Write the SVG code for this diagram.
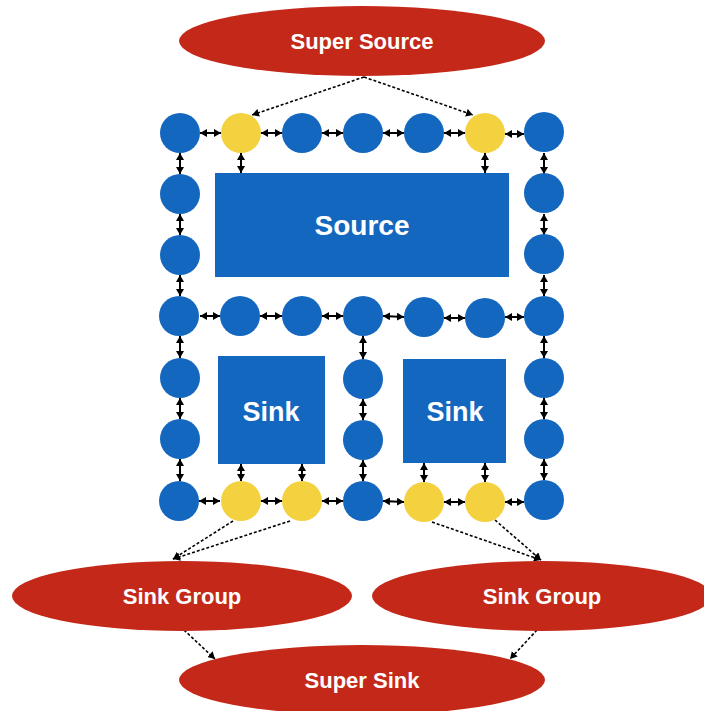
<svg xmlns="http://www.w3.org/2000/svg" width="704" height="711" viewBox="0 0 704 711">
  <style>
    .blue { fill: #1467BE; }
    .gold { fill: #F4D13F; }
    .red { fill: #C42819; }
    .box { fill: #1467BE; }
    .lbl { font-family: "Liberation Sans", Arial, Helvetica, sans-serif; font-weight: bold; fill: #FFFFFF; text-anchor: middle; }
    .big { font-size: 27px; }
    .mid { font-size: 22px; }
    .link { stroke: #000000; stroke-width: 2; fill: none; marker-start: url(#ah); marker-end: url(#ah); }
    .flow { stroke: #000000; stroke-width: 1.6; fill: none; stroke-dasharray: 3 2; marker-end: url(#ah); }
  </style>
  <defs>
    <marker id="ah" viewBox="0 0 7 8" refX="7" refY="4" markerWidth="7" markerHeight="8" orient="auto-start-reverse" markerUnits="userSpaceOnUse">
      <path d="M0,0 L7,4 L0,8 z" fill="#000000"/>
    </marker>
  </defs>

  <rect width="704" height="711" fill="#FFFFFF"/>

  <!-- connectors -->
  <g id="connectors">
    <!-- row 1 -->
    <line class="link" x1="200" y1="133" x2="221" y2="133"/>
    <line class="link" x1="261" y1="133" x2="282" y2="133"/>
    <line class="link" x1="322" y1="133" x2="343" y2="133"/>
    <line class="link" x1="383" y1="133" x2="404" y2="133"/>
    <line class="link" x1="444" y1="133" x2="465" y2="133"/>
    <line class="link" x1="505" y1="134" x2="524" y2="134"/>
    <!-- row 4 -->
    <line class="link" x1="200" y1="316" x2="220" y2="316"/>
    <line class="link" x1="260" y1="316" x2="282" y2="316"/>
    <line class="link" x1="322" y1="316" x2="343" y2="316"/>
    <line class="link" x1="383" y1="316" x2="404" y2="317"/>
    <line class="link" x1="444" y1="318" x2="465" y2="318"/>
    <line class="link" x1="505" y1="317" x2="524" y2="317"/>
    <!-- row 7 -->
    <line class="link" x1="199" y1="501" x2="220" y2="501"/>
    <line class="link" x1="261" y1="501" x2="282" y2="501"/>
    <line class="link" x1="322" y1="501" x2="343" y2="501"/>
    <line class="link" x1="383" y1="501" x2="404" y2="502"/>
    <line class="link" x1="444" y1="502" x2="465" y2="502"/>
    <line class="link" x1="505" y1="502" x2="524" y2="502"/>
    <!-- left column -->
    <line class="link" x1="180" y1="153" x2="180" y2="174"/>
    <line class="link" x1="180" y1="214" x2="180" y2="235"/>
    <line class="link" x1="180" y1="275" x2="180" y2="296"/>
    <line class="link" x1="180" y1="336" x2="180" y2="358"/>
    <line class="link" x1="180" y1="398" x2="180" y2="419"/>
    <line class="link" x1="180" y1="459" x2="180" y2="481"/>
    <!-- right column -->
    <line class="link" x1="544" y1="153" x2="544" y2="174"/>
    <line class="link" x1="544" y1="214" x2="544" y2="235"/>
    <line class="link" x1="544" y1="275" x2="544" y2="296"/>
    <line class="link" x1="544" y1="336" x2="544" y2="358"/>
    <line class="link" x1="544" y1="398" x2="544" y2="419"/>
    <line class="link" x1="544" y1="459" x2="544" y2="480"/>
    <!-- middle column -->
    <line class="link" x1="363" y1="336" x2="363" y2="359"/>
    <line class="link" x1="363" y1="399" x2="363" y2="420"/>
    <line class="link" x1="363" y1="460" x2="363" y2="481"/>
    <!-- gateways to source -->
    <line class="link" x1="241" y1="153" x2="241" y2="173"/>
    <line class="link" x1="485" y1="153" x2="485" y2="173"/>
    <!-- sinks to gateways -->
    <line class="link" x1="241" y1="464" x2="241" y2="481"/>
    <line class="link" x1="302" y1="464" x2="302" y2="481"/>
    <line class="link" x1="424" y1="463" x2="424" y2="482"/>
    <line class="link" x1="485" y1="463" x2="485" y2="482"/>
    <!-- dashed flow -->
    <line class="flow" x1="364" y1="77" x2="252" y2="115"/>
    <line class="flow" x1="364" y1="77" x2="473" y2="115"/>
    <line class="flow" x1="233" y1="521" x2="173" y2="559"/>
    <line class="flow" x1="290" y1="521" x2="173" y2="559"/>
    <line class="flow" x1="432" y1="522" x2="541" y2="560"/>
    <line class="flow" x1="495" y1="520" x2="541" y2="560"/>
    <line class="flow" x1="184" y1="630" x2="215" y2="659"/>
    <line class="flow" x1="537" y1="630" x2="510" y2="659"/>
  </g>

  <!-- super source -->
  <g id="super-source">
    <ellipse class="red" cx="362" cy="41" rx="183" ry="35"/>
    <text class="lbl mid" x="362" y="49">Super Source</text>
  </g>

  <!-- source block -->
  <g id="source">
    <rect class="box" x="215" y="173" width="294" height="104"/>
    <text class="lbl" font-size="28" x="362" y="235">Source</text>
  </g>

  <!-- sink blocks -->
  <g id="sink-1">
    <rect class="box" x="218" y="356" width="107" height="108"/>
    <text class="lbl big" x="271" y="421">Sink</text>
  </g>
  <g id="sink-2">
    <rect class="box" x="403" y="359" width="103" height="104"/>
    <text class="lbl big" x="455" y="421">Sink</text>
  </g>

  <!-- row 1 -->
  <g id="n-1-1"><circle class="blue" cx="180" cy="133" r="20"/></g>
  <g id="n-1-2"><circle class="gold" cx="241" cy="133" r="20"/></g>
  <g id="n-1-3"><circle class="blue" cx="302" cy="133" r="20"/></g>
  <g id="n-1-4"><circle class="blue" cx="363" cy="133" r="20"/></g>
  <g id="n-1-5"><circle class="blue" cx="424" cy="133" r="20"/></g>
  <g id="n-1-6"><circle class="gold" cx="485" cy="133" r="20"/></g>
  <g id="n-1-7"><circle class="blue" cx="544" cy="132" r="20"/></g>

  <!-- side columns, rows 2-3 -->
  <g id="n-2-1"><circle class="blue" cx="180" cy="194" r="20"/></g>
  <g id="n-3-1"><circle class="blue" cx="180" cy="255" r="20"/></g>
  <g id="n-2-7"><circle class="blue" cx="544" cy="193" r="20"/></g>
  <g id="n-3-7"><circle class="blue" cx="544" cy="254" r="20"/></g>

  <!-- row 4 -->
  <g id="n-4-1"><circle class="blue" cx="179" cy="316" r="20"/></g>
  <g id="n-4-2"><circle class="blue" cx="240" cy="316" r="20"/></g>
  <g id="n-4-3"><circle class="blue" cx="302" cy="316" r="20"/></g>
  <g id="n-4-4"><circle class="blue" cx="363" cy="316" r="20"/></g>
  <g id="n-4-5"><circle class="blue" cx="424" cy="317" r="20"/></g>
  <g id="n-4-6"><circle class="blue" cx="485" cy="318" r="20"/></g>
  <g id="n-4-7"><circle class="blue" cx="544" cy="316" r="20"/></g>

  <!-- rows 5-6 -->
  <g id="n-5-1"><circle class="blue" cx="180" cy="378" r="20"/></g>
  <g id="n-6-1"><circle class="blue" cx="180" cy="439" r="20"/></g>
  <g id="n-5-4"><circle class="blue" cx="363" cy="379" r="20"/></g>
  <g id="n-6-4"><circle class="blue" cx="363" cy="440" r="20"/></g>
  <g id="n-5-7"><circle class="blue" cx="544" cy="378" r="20"/></g>
  <g id="n-6-7"><circle class="blue" cx="544" cy="439" r="20"/></g>

  <!-- row 7 -->
  <g id="n-7-1"><circle class="blue" cx="179" cy="501" r="20"/></g>
  <g id="n-7-2"><circle class="gold" cx="241" cy="501" r="20"/></g>
  <g id="n-7-3"><circle class="gold" cx="302" cy="501" r="20"/></g>
  <g id="n-7-4"><circle class="blue" cx="363" cy="501" r="20"/></g>
  <g id="n-7-5"><circle class="gold" cx="424" cy="502" r="20"/></g>
  <g id="n-7-6"><circle class="gold" cx="485" cy="502" r="20"/></g>
  <g id="n-7-7"><circle class="blue" cx="544" cy="500" r="20"/></g>

  <!-- sink groups -->
  <g id="sink-group-1">
    <ellipse class="red" cx="182" cy="596" rx="170" ry="35"/>
    <text class="lbl mid" x="182" y="604">Sink Group</text>
  </g>
  <g id="sink-group-2">
    <ellipse class="red" cx="542" cy="596" rx="170" ry="35"/>
    <text class="lbl mid" x="542" y="604">Sink Group</text>
  </g>

  <!-- super sink -->
  <g id="super-sink">
    <ellipse class="red" cx="362" cy="680" rx="183" ry="35"/>
    <text class="lbl mid" x="362" y="688">Super Sink</text>
  </g>
</svg>
